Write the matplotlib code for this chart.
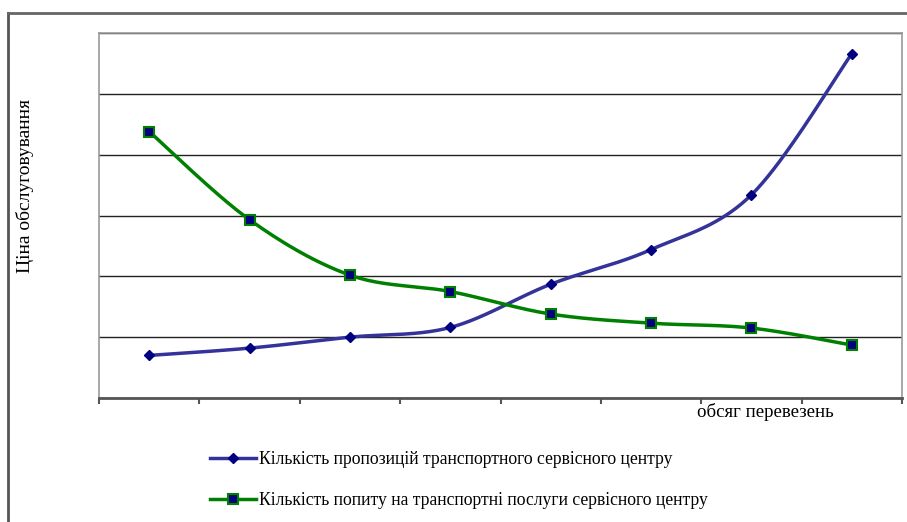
import matplotlib.pyplot as plt
from matplotlib.lines import Line2D
import numpy as np

plt.rcParams['font.family'] = ['Liberation Serif', 'DejaVu Serif']

categories = [1, 2, 3, 4, 5, 6, 7, 8]
supply = [7.0, 8.2, 10.0, 11.6, 18.7, 24.4, 33.4, 56.6]
demand = [43.8, 29.3, 20.2, 17.5, 13.8, 12.3, 11.5, 8.7]

supply_label = "Кількість пропозицій транспортного сервісного центру"
demand_label = "Кількість попиту на транспортні послуги сервісного центру"


def smooth(xs, ys, n=40):
    # cubic bezier through points, control points at 1/6 of neighbour span
    x = np.asarray(xs, float)
    y = np.asarray(ys, float)
    px = np.concatenate([[x[0]], x, [x[-1]]])
    py = np.concatenate([[y[0]], y, [y[-1]]])
    out_x, out_y = [], []
    t = np.linspace(0, 1, n)
    for i in range(len(x) - 1):
        p0 = np.array([px[i + 1], py[i + 1]])
        p3 = np.array([px[i + 2], py[i + 2]])
        p1 = p0 + (np.array([px[i + 2], py[i + 2]]) - np.array([px[i], py[i]])) / 6
        p2 = p3 - (np.array([px[i + 3], py[i + 3]]) - np.array([px[i + 1], py[i + 1]])) / 6
        b = ((1 - t) ** 3)[:, None] * p0 + (3 * (1 - t) ** 2 * t)[:, None] * p1 \
            + (3 * (1 - t) * t ** 2)[:, None] * p2 + (t ** 3)[:, None] * p3
        out_x.extend(b[:, 0])
        out_y.extend(b[:, 1])
    return out_x, out_y


fig = plt.figure(figsize=(9.07, 5.22), dpi=100)
ax = fig.add_axes([99 / 907, 124 / 522, 803 / 907, 365 / 522])

xpos = np.array(categories) - 0.5

sx, sy = smooth(xpos, supply)
ax.plot(sx, sy, color='#333399', lw=2.5, zorder=3)
ax.plot(xpos, supply, ls='none', marker='D', ms=5.5, color='#000080', zorder=4)

dx, dy = smooth(xpos, demand)
ax.plot(dx, dy, color='#008000', lw=2.5, zorder=3)
ax.plot(xpos, demand, ls='none', marker='s', ms=6.5, mfc='#000080',
        mec='#008000', mew=1.5, zorder=4)

ax.set_xlim(0, 8)
ax.set_ylim(0, 60)
ax.set_yticks(np.arange(0, 61, 10))
ax.set_xticks(np.arange(0, 9))
ax.yaxis.grid(True, color='#222222', lw=1)
ax.tick_params(axis='y', left=False, labelleft=False)
ax.tick_params(axis='x', direction='out', length=4, width=1.5, color='#555555',
               labelbottom=False)
for s in ['left', 'top', 'right']:
    ax.spines[s].set_color('#999999')
    ax.spines[s].set_linewidth(1.2)
ax.spines['bottom'].set_color('#555555')
ax.spines['bottom'].set_linewidth(2)

ax.text(6.64, -0.9, "обсяг перевезень", ha='center', va='top', fontsize=13.6)
fig.text(25 / 907, 1 - 186 / 522, "Ціна обслуговування", rotation=90,
         ha='center', va='center', fontsize=14)

handles = [
    Line2D([], [], color='#333399', lw=2.5, marker='D', ms=5,
           mfc='#000080', mec='#000080'),
    Line2D([], [], color='#008000', lw=2.5, marker='s', ms=6.5,
           mfc='#000080', mec='#008000', mew=1.5),
]
fig.legend(handles, [supply_label, demand_label], loc='upper left',
           bbox_to_anchor=(194 / 907, 1 - 435 / 522), frameon=False,
           fontsize=12.7, handlelength=2.6, handletextpad=0.2,
           labelspacing=1.35)

# outer frame
fig.add_artist(Line2D([8 / 907, 8 / 907], [0, 1 - 13 / 522], color='#555555',
                      lw=2, transform=fig.transFigure))
fig.add_artist(Line2D([8 / 907, 1], [1 - 13 / 522, 1 - 13 / 522], color='#666666',
                      lw=2, transform=fig.transFigure))

fig.savefig('out.png', dpi=100)
